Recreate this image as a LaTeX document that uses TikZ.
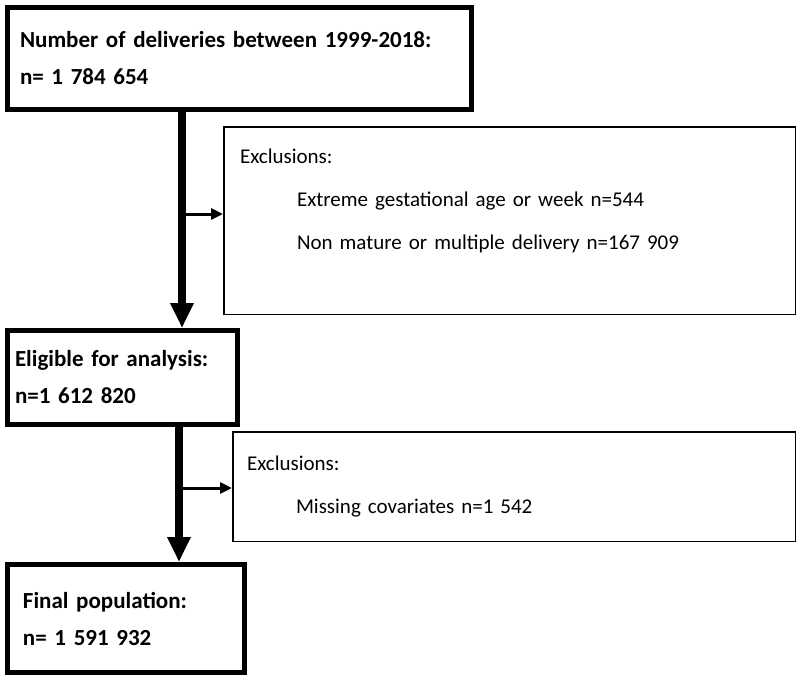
\documentclass[tikz,border=0pt]{standalone}
\usepackage{fontspec}
\setmainfont{Carlito}
\usetikzlibrary{arrows.meta,positioning}

\tikzset{
  mainbox/.style={draw, line width=5pt, anchor=north west, align=left,
    inner ysep=0pt, font=\bfseries\fontsize{23}{37}\selectfont},
  exclbox/.style={draw, line width=1.5pt, anchor=north west, align=left,
    inner ysep=0pt, font=\fontsize{21}{43}\selectfont},
  trunk/.style={line width=8pt, -{Triangle[width=22pt,length=25pt]}},
  branch/.style={line width=3pt, -{Triangle[width=11pt,length=12pt]}},
}

\begin{document}
\begin{tikzpicture}[x=1pt, y=-1pt]
    \useasboundingbox (0,0) rectangle (798,678);

    % Boxes
    \node[mainbox, minimum width=464pt, minimum height=102pt, inner xsep=12.5pt, text width=439pt]
        (total) at (5,5) {Number of deliveries between 1999-2018:\\ n= 1 784 654};
    \node[exclbox, minimum width=571.5pt, minimum height=187.5pt, inner xsep=16pt, text width=539pt]
        (excl1) at (223,126) {Exclusions:\\
        \hspace*{57pt}Extreme gestational age or week n=544\\
        \hspace*{57pt}Non mature or multiple delivery n=167 909\\[-14pt] \strut};
    \node[mainbox, minimum width=230pt, minimum height=94pt, inner xsep=7.5pt, text width=215pt]
        (eligible) at (5,328) {Eligible for analysis:\\ n=1 612 820};
    \node[exclbox, minimum width=562.5pt, minimum height=109.5pt, inner xsep=14pt, text width=534pt]
        (excl2) at (232,431) {Exclusions:\\ \hspace*{49pt}Missing covariates n=1 542};
    \node[mainbox, minimum width=237pt, minimum height=108pt, inner xsep=15.5pt, text width=206pt]
        (final) at (5,562) {Final population:\\ n= 1 591 932};

    % Arrows
    \coordinate (trunk1) at (182,0);
    \coordinate (trunk2) at (179,0);
    \coordinate (split1) at (182,214);
    \coordinate (split2) at (179,488);
    \draw[trunk] (total.south -| trunk1) -- (eligible.north -| trunk1);
    \draw[branch] (split1) -- (split1 -| excl1.west);
    \draw[trunk] (eligible.south -| trunk2) -- (final.north -| trunk2);
    \draw[branch] (split2) -- (split2 -| excl2.west);
\end{tikzpicture}
\end{document}
